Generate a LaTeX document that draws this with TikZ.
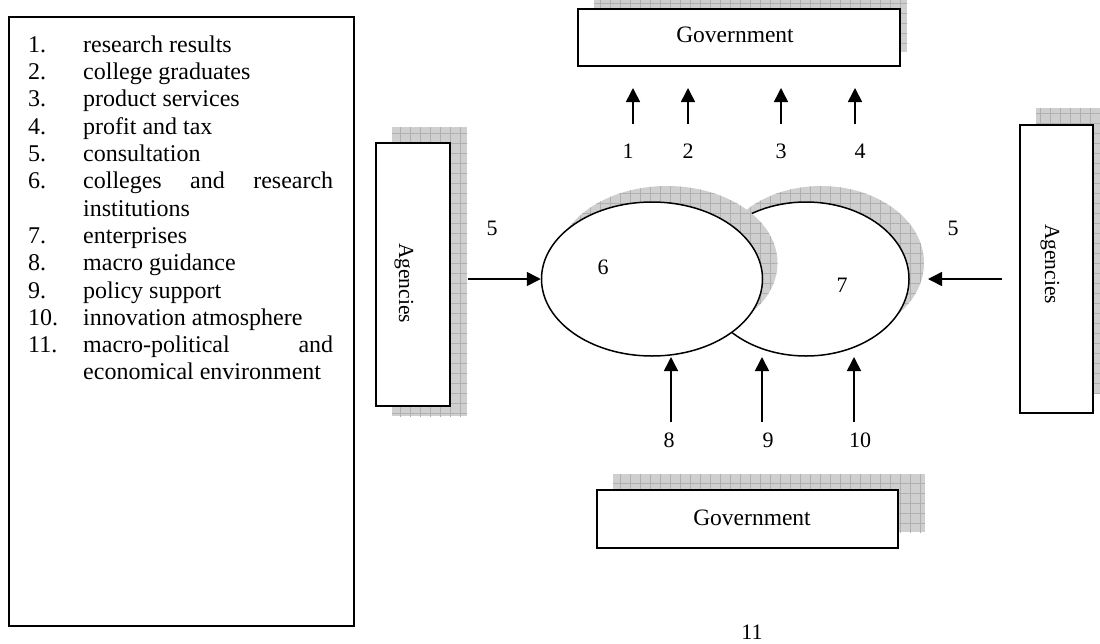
\documentclass[tikz,border=0pt]{standalone}
\usepackage{fontspec}
\setmainfont{Liberation Serif}
\usetikzlibrary{arrows.meta,patterns.meta,shapes.geometric}

\tikzset{
  box/.style={draw, line width=1.8pt, fill=white, inner sep=0pt},
  shade/.style={preaction={fill=gray!38}, pattern={Hatch[distance=10pt,angle=0,line width=.6pt]}, pattern color=gray!62},
  oval/.style={draw, ellipse, line width=1.5pt, fill=white, inner sep=0pt},
  num/.style={font=\fontsize{22}{25}\selectfont, inner sep=0pt},
  word/.style={font=\fontsize{23.5}{27}\selectfont, inner sep=0pt},
  sideword/.style={font=\fontsize{21.5}{25}\selectfont, inner sep=0pt, rotate=-90},
  flow/.style={-{Triangle[length=14pt,width=14pt]}, line width=1.6pt},
}

\newcommand{\legitem}[2]{\hangindent=55pt\hangafter=1\noindent\makebox[55pt][l]{#1}#2\par}

\begin{document}
\begin{tikzpicture}[x=1pt,y=-1pt]
  \useasboundingbox (0,0) rectangle (1100,643);
  % legend
  \node (legend) [box, minimum width=345pt, minimum height=609pt, anchor=north west] at (8,16) {};
  \node (items) [anchor=north west, inner sep=0pt, text width=305pt, align=justify,
    font=\fontsize{24}{27.3}\selectfont] at (28,35.5) {%
    \hyphenpenalty=10000\exhyphenpenalty=10000\tolerance=10000
    \legitem{1.}{research results}
    \legitem{2.}{college graduates}
    \legitem{3.}{product services}
    \legitem{4.}{profit and tax}
    \legitem{5.}{consultation}
    \legitem{6.}{colleges and research institutions}
    \legitem{7.}{enterprises}
    \legitem{8.}{macro guidance}
    \legitem{9.}{policy support}
    \legitem{10.}{innovation atmosphere}
    \legitem{11.}{macro-political and economical environment}};
  % shadows
  \fill[shade] (594,0) rectangle (907,52);
  \fill[shade] (613,474) rectangle (925,532);
  \fill[shade] (392,127) rectangle (467,416);
  \fill[shade] (1036,108) rectangle (1100,393);
  % government and agencies
  \node (gtop) [box, minimum width=322pt, minimum height=57pt] at (739,37.5) {};
  \node (gtoptext) [word] at (735,35) {Government};
  \node (gbot) [box, minimum width=301pt, minimum height=58pt] at (747.5,519) {};
  \node (gbottext) [word] at (752,518) {Government};
  \node (agl) [box, minimum width=74pt, minimum height=263pt] at (413,274.5) {};
  \node (agltext) [sideword] at (404,283) {Agencies};
  \node (agr) [box, minimum width=73pt, minimum height=288pt] at (1056.5,269) {};
  \node (agrtext) [sideword] at (1050,264) {Agencies};
  % ovals
  \fill[shade] (821,263) ellipse [x radius=103pt, y radius=77pt];
  \node (rov) [oval, minimum width=206pt, minimum height=154pt] at (806,279) {};
  \fill[shade, fill opacity=.9] (667,263) ellipse [x radius=110.5pt, y radius=77pt];
  \node (lov) [oval, minimum width=221pt, minimum height=154pt] at (652,279) {};
  \node (six) [num] at (603,267) {6};
  \node (seven) [num] at (842,285) {7};
  % arrows up to government
  \foreach \x/\lx/\n in {633/628/1, 688/688/2, 781/781/3, 855/860/4} {
    \coordinate (up\n) at (\x,124);
    \coordinate (uptip\n) at (\x,88);
    \draw[flow] (up\n) -- (uptip\n);
    \node (lab\n) [num] at (\lx,151) {\n};
  }
  % arrows from government below
  \foreach \x/\lx/\n in {671/669/8, 762/768/9, 854/860/10} {
    \coordinate (dn\n) at (\x,422);
    \coordinate (dntip\n) at (\x,357);
    \draw[flow] (dn\n) -- (dntip\n);
    \node (lab\n) [num] at (\lx,440) {\n};
  }
  % consultation
  \coordinate (inl) at (468,279);
  \draw[flow] (inl) -- (lov.west);
  \coordinate (inr) at (1002,279);
  \coordinate (inrtip) at (928,279);
  \draw[flow] (inr) -- (inrtip);
  \node (lab5l) [num] at (492,228) {5};
  \node (lab5r) [num] at (953,228) {5};
  \node (lab11) [num] at (752,632) {11};
\end{tikzpicture}
\end{document}
